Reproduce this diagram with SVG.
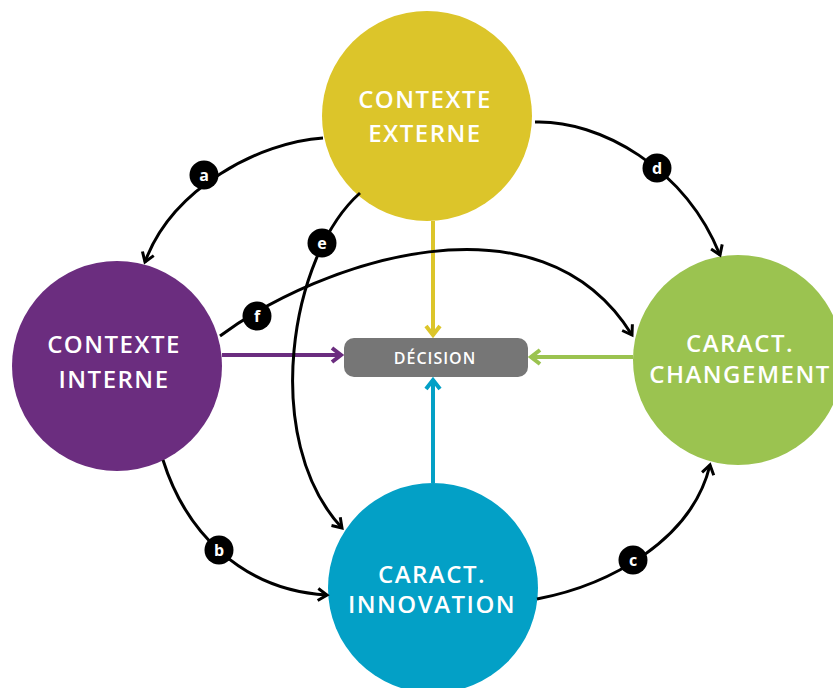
<svg xmlns="http://www.w3.org/2000/svg" width="833" height="688" viewBox="0 0 833 688">
<style>
.node text{font-family:"Open Sans","Liberation Sans",sans-serif;font-weight:600;fill:#fff;text-anchor:middle;}
.big{font-size:24px;letter-spacing:1.5px;}
.curve{fill:none;stroke:#000;stroke-width:3;marker-end:url(#ak);}
.lbl circle{fill:#000;}
.lbl text{font-family:"Open Sans","Liberation Sans",sans-serif;font-weight:700;font-size:16px;fill:#fff;text-anchor:middle;}
.col{fill:none;stroke-width:4;}
</style>
<defs>
<marker id="ak" markerUnits="userSpaceOnUse" viewBox="0 0 16 16" markerWidth="16" markerHeight="16" refX="12" refY="8" orient="auto">
<path d="M3,2 L12,8 L3,14" fill="none" stroke="#000" stroke-width="3"/>
</marker>
<marker id="ay" markerUnits="userSpaceOnUse" viewBox="0 0 18 18" markerWidth="18" markerHeight="18" refX="13" refY="9" orient="auto">
<path d="M4,2 L13,9 L4,16" fill="none" stroke="#DCC52A" stroke-width="4"/>
</marker>
<marker id="ap" markerUnits="userSpaceOnUse" viewBox="0 0 18 18" markerWidth="18" markerHeight="18" refX="13" refY="9" orient="auto">
<path d="M4,2 L13,9 L4,16" fill="none" stroke="#6B2D7F" stroke-width="4"/>
</marker>
<marker id="ag" markerUnits="userSpaceOnUse" viewBox="0 0 18 18" markerWidth="18" markerHeight="18" refX="13" refY="9" orient="auto">
<path d="M4,2 L13,9 L4,16" fill="none" stroke="#9BC350" stroke-width="4"/>
</marker>
<marker id="ab" markerUnits="userSpaceOnUse" viewBox="0 0 18 18" markerWidth="18" markerHeight="18" refX="13" refY="9" orient="auto">
<path d="M4,2 L13,9 L4,16" fill="none" stroke="#03A0C6" stroke-width="4"/>
</marker>
</defs>
<rect width="833" height="688" fill="#fff"/>

<g id="n-externe" class="node">
<circle cx="427" cy="116" r="105" fill="#DCC52A"/>
<text class="big" x="425" y="108">CONTEXTE</text>
<text class="big" x="425" y="142">EXTERNE</text>
</g>
<g id="n-interne" class="node">
<circle cx="117" cy="366" r="105" fill="#6B2D7F"/>
<text class="big" x="114" y="353">CONTEXTE</text>
<text class="big" x="114" y="388">INTERNE</text>
</g>
<g id="n-changement" class="node">
<circle cx="738" cy="360" r="105" fill="#9BC350"/>
<text class="big" x="740" y="352">CARACT.</text>
<text class="big" x="740" y="383">CHANGEMENT</text>
</g>
<g id="n-innovation" class="node">
<circle cx="433" cy="588" r="105" fill="#03A0C6"/>
<text class="big" x="432" y="583">CARACT.</text>
<text class="big" x="432" y="613">INNOVATION</text>
</g>

<g id="connectors">
<path class="col" stroke="#DCC52A" d="M433,221 L433,335" marker-end="url(#ay)"/>
<path class="col" stroke="#6B2D7F" d="M222,355 L341,355" marker-end="url(#ap)"/>
<path class="col" stroke="#9BC350" d="M633,357 L531,357" marker-end="url(#ag)"/>
<path class="col" stroke="#03A0C6" d="M433,483 L433,380" marker-end="url(#ab)"/>

<path class="curve" d="M323,138 C260,142 172,188 145,262"/>
<path class="curve" d="M535,122 C600,120 685,168 720,255"/>
<path class="curve" d="M163,460 C185,530 240,590 327,595"/>
<path class="curve" d="M537,599 C610,585 692,540 710,465"/>
<path class="curve" d="M360,193 C290,255 260,440 342,528"/>
<path class="curve" d="M220,336 C320,262 540,186 632,335"/>

<g class="lbl"><circle cx="204" cy="175" r="14.5"/><text x="204" y="180.5">a</text></g>
<g class="lbl"><circle cx="219" cy="550" r="14.5"/><text x="219" y="555.5">b</text></g>
<g class="lbl"><circle cx="633" cy="560" r="14.5"/><text x="633" y="565.5">c</text></g>
<g class="lbl"><circle cx="657" cy="168" r="14.5"/><text x="657" y="173.5">d</text></g>
<g class="lbl"><circle cx="322" cy="243" r="14.5"/><text x="322" y="248.5">e</text></g>
<g class="lbl"><circle cx="257" cy="316" r="14.5"/><text x="257" y="321.5">f</text></g>
</g>

<g id="n-decision" class="node">
<rect x="344" y="338" width="184" height="39" rx="10" fill="#767676"/>
<text x="435" y="363.5" style="font-size:16px;letter-spacing:1px;">DÉCISION</text>
</g>
</svg>
